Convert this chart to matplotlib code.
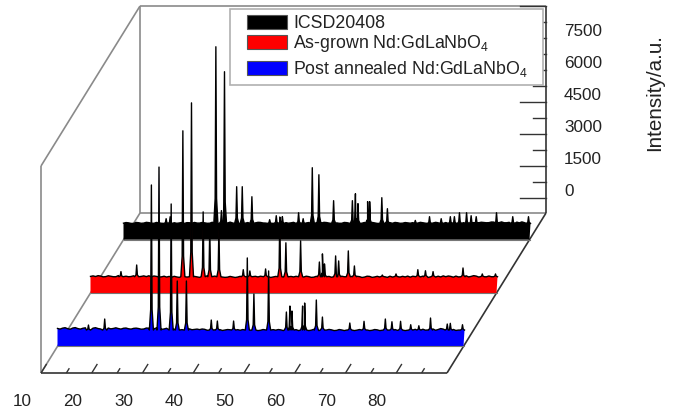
import numpy as np
import matplotlib.pyplot as plt
from matplotlib.patches import Rectangle

plt.rcParams['font.family'] = ['Liberation Sans', 'DejaVu Sans']
plt.rcParams['mathtext.default'] = 'regular'

# baseline readings, one per degree from 10 to 90, plus the half-degree readings between them
base_theta = np.arange(10, 91)
mid_theta = np.arange(10.5, 90)
black_base = [70, 85, 60, 90, 75, 95, 65, 85, 100, 70, 90, 80, 60, 90, 105, 75, 85, 70, 95, 80,
              90, 120, 80, 95, 70, 100, 85, 105, 75, 90, 85, 70, 95, 85, 60, 90, 80, 65, 90, 75,
              100, 70, 85, 65, 95, 80, 90, 70, 85, 105, 60, 85, 75, 65, 90, 70, 85, 95, 75, 90,
              65, 80, 90, 60, 85, 75, 70, 95, 85, 100, 90, 105, 95, 120, 95, 90, 110, 100, 85, 95,
              105]
black_mid = [100, 60, 105, 65, 110, 70, 105, 65, 75, 110, 65, 105, 95, 70, 75, 105, 65, 115, 70, 105,
             75, 80, 110, 75, 100, 70, 110, 80, 105, 65, 105, 95, 70, 110, 95, 70, 100, 105, 65, 110,
             75, 100, 65, 105, 70, 110, 65, 105, 115, 85, 100, 65, 95, 105, 65, 100, 70, 80, 110, 70,
             95, 110, 75, 100, 65, 110, 105, 80, 120, 85, 115, 90, 125, 95, 130, 90, 85, 120, 130, 85]
red_base = [75, 70, 90, 65, 80, 60, 95, 85, 70, 95, 75, 65, 55, 75, 55, 45, 40, 50, 35, 45,
            40, 55, 75, 105, 65, 55, 45, 40, 50, 45, 60, 75, 65, 50, 60, 70, 50, 40, 45, 55,
            50, 60, 45, 65, 40, 50, 55, 75, 45, 40, 60, 50, 55, 65, 45, 75, 50, 45, 60, 85,
            55, 45, 50, 40, 60, 50, 65, 55, 45, 50, 60, 75, 90, 65, 105, 75, 90, 65, 55, 60,
            50]
red_mid = [100, 110, 55, 105, 60, 115, 65, 60, 105, 70, 100, 105, 95, 45, 85, 75, 80, 30, 70, 25,
           75, 30, 45, 40, 90, 80, 30, 75, 25, 80, 30, 35, 80, 85, 30, 25, 75, 80, 25, 75,
           80, 25, 85, 30, 80, 75, 30, 35, 80, 85, 25, 75, 80, 25, 85, 30, 80, 85, 30, 45,
           85, 80, 90, 85, 30, 90, 25, 80, 85, 100, 95, 40, 50, 115, 50, 110, 45, 90, 95, 80]
blue_base = [135, 150, 125, 155, 130, 145, 120, 150, 130, 125, 155, 135, 130, 145, 120, 140, 130, 110, 145, 120,
             130, 110, 120, 100, 120, 105, 115, 90, 80, 95, 80, 70, 80, 60, 75, 65, 50, 70, 55, 70,
             50, 65, 40, 55, 70, 45, 60, 80, 50, 65, 55, 80, 50, 60, 70, 45, 65, 60, 75, 55,
             45, 65, 50, 70, 55, 80, 65, 45, 70, 50, 60, 80, 100, 65, 110, 85, 105, 65, 90, 60,
             80]
blue_mid = [105, 170, 100, 175, 105, 165, 100, 170, 110, 160, 115, 165, 105, 155, 105, 150, 100, 155, 105, 160,
            95, 145, 85, 135, 80, 130, 75, 105, 110, 50, 90, 95, 40, 85, 40, 80, 85, 35, 90, 35,
            85, 35, 80, 85, 35, 90, 95, 35, 85, 35, 95, 35, 85, 90, 35, 85, 35, 90, 35, 85,
            90, 35, 85, 35, 95, 40, 85, 90, 35, 85, 95, 45, 55, 115, 50, 130, 50, 110, 40, 95]

black_peak_theta = [18.4, 19.2, 28.2, 29.3, 29.9, 32.3, 33.4, 35.3, 38.8, 40.1, 40.9, 41.3, 44.5, 45.4, 47.2, 48.5,
                    51.4, 55.1, 55.7, 56.2, 58.1, 58.5, 60.9, 62.0, 67.5, 70.3, 72.6, 74.4, 75.2, 76.2, 77.6,
                    78.5, 79.5, 83.5, 86.7, 89.8]
black_peak_counts = [280, 375, 8340, 660, 7170, 1780, 1780, 1310, 235, 420, 330, 375, 560, 280, 2670, 2340,
                     1125, 1125, 1450, 985, 1080, 1080, 1265, 750, 200, 375, 280, 375, 375, 560, 560,
                     420, 375, 560, 375, 375]
red_peak_theta = [16.0, 19.1, 28.2, 29.9, 32.2, 33.5, 35.3, 40.1, 41.4, 44.5, 47.3, 48.5, 51.4, 55.1, 55.7, 56.1,
                  58.3, 58.9, 60.8, 62.0, 67.5, 70.2, 74.5, 76.0, 77.5, 83.4, 87.2, 89.8]
red_peak_counts = [300, 610, 6900, 8210, 3100, 2300, 2350, 390, 330, 425, 2860, 1650, 1740, 750, 1130, 660,
                   1035, 800, 1270, 565, 140, 190, 390, 340, 300, 470, 190, 190]
blue_peak_theta = [16.1, 19.3, 28.5, 30.0, 32.4, 33.6, 35.4, 40.3, 41.5, 44.7, 47.4, 48.7, 51.6, 55.1, 55.8, 56.2,
                   58.3, 58.7, 61.0, 62.2, 67.6, 70.4, 74.6, 75.9, 77.6, 79.6, 81.2, 83.5, 86.8, 87.4, 89.8]
blue_peak_counts = [295, 577, 6860, 7700, 5970, 2360, 2360, 530, 483, 483, 3440, 1750, 2830, 905, 1186, 952,
                    1186, 1327, 1468, 670, 390, 470, 577, 450, 470, 310, 262, 624, 342, 375, 310]

series_names = ['ICSD20408', 'As-grown Nd:GdLaNbO$_4$', 'Post annealed Nd:GdLaNbO$_4$']
series_colors = ['black', 'red', 'blue']
x_ticks = [10, 20, 30, 40, 50, 60, 70, 80]
z_ticks = [0, 1500, 3000, 4500, 6000, 7500]


def project(theta, counts, depth):
    theta = np.asarray(theta, dtype=float)
    counts = np.asarray(counts, dtype=float)
    depth = np.asarray(depth, dtype=float)
    px = 41 + (theta - 10) * 5.075 + depth * 33
    py = 374 - depth * 53.33 - (counts + 703) * 32 / 1500
    return px, py


def merge_peaks(peak_theta, peak_counts, base_counts, mid_counts):
    # baseline points under a peak get dropped, each peak has a wide foot and a thin tip
    keep = []
    for t, c in list(zip(base_theta, base_counts)) + list(zip(mid_theta, mid_counts)):
        if min(abs(t - p) for p in peak_theta) > 0.45:
            keep.append((t, c))
    for t, c in zip(peak_theta, peak_counts):
        keep.append((t - 0.4, 60))
        keep.append((t - 0.14, 60 + 0.14 * c))
        keep.append((t, c))
        keep.append((t + 0.14, 60 + 0.14 * c))
        keep.append((t + 0.4, 60))
    keep.sort()
    return np.array(keep).T


fig = plt.figure(figsize=(6.79, 4.14), dpi=100)
ax = fig.add_axes([0, 0, 1, 1])
ax.set_xlim(0, 679)
ax.set_ylim(414, 0)
ax.axis('off')

# box
grey = '#8a8a8a'
dark = '#333333'
floor = -703
top = 9000


def edge(a, b, color, lw=1.2):
    p = project([a[0], b[0]], [a[1], b[1]], [a[2], b[2]])
    ax.plot(p[0], p[1], color=color, lw=lw, solid_capstyle='butt', zorder=1)


edge((10, floor, 0), (10, top, 0), grey)
edge((10, top, 0), (10, top, 3), grey)
edge((10, top, 3), (90, top, 3), grey)
edge((10, top, 3), (10, floor, 3), grey)
edge((10, floor, 3), (90, floor, 3), grey)
edge((10, floor, 0), (10, floor, 3), grey)
edge((90, floor, 3), (90, top, 3), dark)
edge((90, floor, 0), (90, floor, 3), dark)
edge((10, floor, 0), (90, floor, 0), dark)

# x ticks
for t in np.arange(10, 90, 5):
    d = 0.17 if t % 10 == 0 else 0.09
    edge((t, floor, 0), (t, floor, d), dark, 1.0)
for t in x_ticks:
    px, py = project(t, floor, 0)
    ax.text(px - 19, py + 28, str(t), fontsize=12.3, color='#222222', ha='center', va='center')

# z ticks on the back right edge
for z in np.arange(0, 9001, 750):
    px, py = project(90, z, 3)
    ln = 26 if z % 1500 == 0 else 13
    ax.plot([px - ln, px], [py, py], color=dark, lw=1.0, zorder=1)
for z in z_ticks:
    px, py = project(90, z, 3)
    ax.text(px + 18, py - 8, str(z), fontsize=12.3, color='#222222', ha='left', va='center')
ax.text(655, 93, 'Intensity/a.u.', fontsize=14.9, rotation=90, color='#222222', ha='center', va='center')

# series, back to front
all_series = [(black_peak_theta, black_peak_counts, black_base, black_mid, 2.5),
              (red_peak_theta, red_peak_counts, red_base, red_mid, 1.5),
              (blue_peak_theta, blue_peak_counts, blue_base, blue_mid, 0.5)]
for i, (pt, pc, bc, mc, depth) in enumerate(all_series):
    th, ct = merge_peaks(pt, pc, bc, mc)
    px, py = project(th, ct, depth)
    x0, y0 = project(10, floor, depth)
    x1, y1 = project(90, floor, depth)
    poly_x = np.r_[x0, px, x1]
    poly_y = np.r_[y0, py, y1]
    ax.fill(poly_x, poly_y, color=series_colors[i], lw=0, zorder=3 + i)
    ax.plot(px, py, color='black', lw=1.0, zorder=3 + i)
    ax.plot([x0, x1], [y0, y1], color='#777777', lw=0.8, zorder=3 + i)

# legend
ax.add_patch(Rectangle((230, 10), 313, 76, fc='white', ec='#b0b0b0', lw=1.2, zorder=10))
swatch_top = [16, 36, 62]
text_y = [23, 43, 69]
for c, s, ty, name in zip(series_colors, swatch_top, text_y, series_names):
    ax.add_patch(Rectangle((247, s), 40, 14, fc=c, ec='#555555', lw=0.8, zorder=11))
    ax.text(293, ty, name, fontsize=12.8, color='#222222', ha='left', va='center', zorder=11)

fig.savefig('out.png', dpi=100)
